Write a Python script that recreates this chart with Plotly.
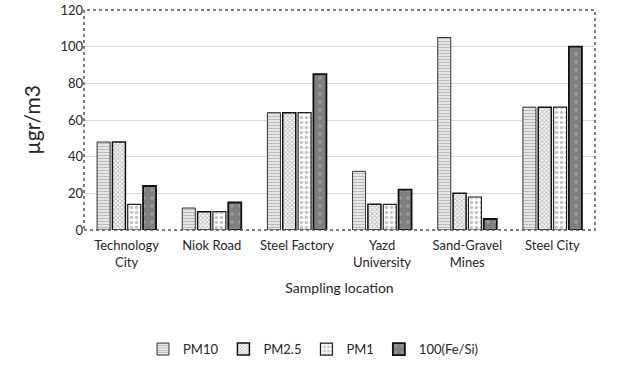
import plotly.graph_objects as go

categories = ["Technology<br>City", "Niok Road", "Steel Factory", "Yazd<br>University", "Sand-Gravel<br>Mines", "Steel City"]
pm10 = [48, 12, 64, 32, 105, 67]
pm25 = [48, 10, 64, 14, 20, 67]
pm1 = [14, 10, 64, 14, 18, 67]
fe_si = [24, 15, 85, 22, 6, 100]
y_ticks = [0, 20, 40, 60, 80, 100, 120]

FONT = "Lato, Open Sans, sans-serif"

fig = go.Figure()
fig.add_trace(go.Bar(
    name="PM10", x=categories, y=pm10,
    marker=dict(color="white", line=dict(color="#333333", width=1),
                pattern=dict(shape="-", fgcolor="#7a7a7a", bgcolor="white", size=3, solidity=0.6)),
))
fig.add_trace(go.Bar(
    name="PM2.5", x=categories, y=pm25,
    marker=dict(color="white", line=dict(color="#111111", width=1.5),
                pattern=dict(shape="x", fgcolor="#7a7a7a", bgcolor="white", size=3, solidity=0.5)),
))
fig.add_trace(go.Bar(
    name="PM1", x=categories, y=pm1,
    marker=dict(color="white", line=dict(color="#222222", width=1.2),
                pattern=dict(shape=".", fgcolor="#8a8a8a", bgcolor="white", size=5, solidity=0.4)),
))
fig.add_trace(go.Bar(
    name="100(Fe/Si)", x=categories, y=fe_si,
    marker=dict(color="#7f7f7f", line=dict(color="#111111", width=1.8),
                pattern=dict(shape=".", fgcolor="#bdbdbd", bgcolor="#7f7f7f", size=8, solidity=0.15)),
))

fig.update_layout(
    width=627, height=377,
    margin=dict(l=84, r=32, t=10, b=147, autoexpand=False),
    paper_bgcolor="white", plot_bgcolor="white",
    font=dict(family=FONT, size=13, color="#262626"),
    barmode="group", bargap=0.28, bargroupgap=0.15,
    showlegend=True,
    legend=dict(orientation="h", xref="container", yref="container",
                x=0.5, xanchor="center", y=0.074, yanchor="middle",
                font=dict(size=13), itemwidth=30, traceorder="normal"),
    xaxis=dict(
        title=dict(text="Sampling location", font=dict(size=14), standoff=14),
        automargin=False, ticklabelstandoff=6,
        showgrid=False, showline=False,
        ticks="", tickfont=dict(size=13),
    ),
    yaxis=dict(
        title=dict(text="µgr/m3", font=dict(size=21), standoff=14),
        automargin=False, ticklabeloverflow="allow",
        range=[0, 120], tickvals=y_ticks,
        showgrid=True, gridcolor="#d9d9d9", gridwidth=1,
        showline=False,
        zeroline=False, ticks="", tickfont=dict(size=13),
    ),
)
# dotted frame around the plot area
fig.add_shape(type="rect", xref="paper", yref="paper", x0=0, y0=0, x1=1, y1=1,
              line=dict(color="#555555", width=1.5, dash="dot"), layer="above")

fig.write_html("out.html", config={"displayModeBar": False},
               post_script="document.body.style.margin='0px';")
